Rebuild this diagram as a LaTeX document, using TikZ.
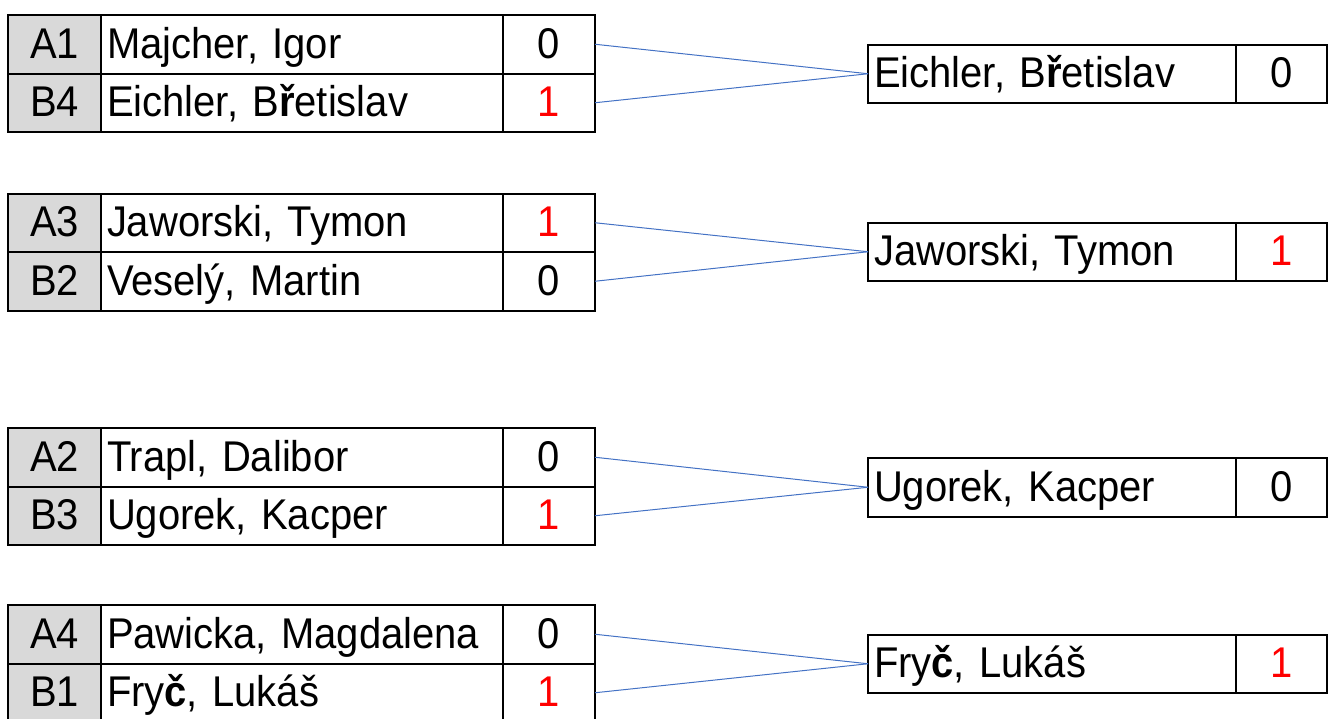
\documentclass[tikz,border=0pt]{standalone}
\usepackage{fontspec}
\setmainfont{Liberation Sans}[FakeStretch=0.93]
\definecolor{cellgray}{HTML}{D9D9D9}
\definecolor{linkblue}{HTML}{4472C4}
\definecolor{winred}{HTML}{FF0000}
\tikzset{
  cell/.style={draw=black, line width=2pt, anchor=north west, inner sep=0pt, outer sep=0pt,
    minimum height=58.5pt, text height=31pt, text depth=3pt,
    font=\fontsize{43}{50}\selectfont},
  codecell/.style={cell, fill=cellgray, minimum width=93pt},
  namecell/.style={cell, minimum width=402pt, text width=390pt, inner xsep=6pt, align=left},
  scorecell/.style={cell, minimum width=92pt},
  wnamecell/.style={cell, minimum width=368pt, text width=356pt, inner xsep=6pt, align=left},
  wscorecell/.style={cell, minimum width=91pt},
  link/.style={draw=linkblue, line width=1pt},
}
\newcommand\prow[5]{%
  \node[codecell] (#1c) at (8,#2) {#3};
  \node[namecell] (#1n) at (101,#2) {#4};
  \node[scorecell] (#1s) at (503,#2) {#5};
}
\newcommand\wbox[4]{%
  \node[wnamecell] (#1n) at (868,#2) {#3};
  \node[wscorecell] (#1s) at (1236,#2) {#4};
}
\newcommand\win{\textcolor{winred}{1}}
\begin{document}
\begin{tikzpicture}[x=1pt,y=-1pt]
\useasboundingbox (0,0) rectangle (1329,718);
% block 1
\prow{a1}{15}{A1}{Majcher, Igor}{0}
\prow{b4}{73.5}{B4}{Eichler, B{\bfseries ř}etislav}{\win}
\wbox{w1}{44.5}{Eichler, B{\bfseries ř}etislav}{0}
\draw[link] (a1s.east) -- (w1n.west);
\draw[link] (b4s.east) -- (w1n.west);
% block 2
\prow{a3}{193.5}{A3}{Jaworski, Tymon}{\win}
\prow{b2}{252}{B2}{Veselý, Martin}{0}
\wbox{w2}{222.5}{Jaworski, Tymon}{\win}
\draw[link] (a3s.east) -- (w2n.west);
\draw[link] (b2s.east) -- (w2n.west);
% block 3
\prow{a2}{428}{A2}{Trapl, Dalibor}{0}
\prow{b3}{486.5}{B3}{Ugorek, Kacper}{\win}
\wbox{w3}{458}{Ugorek, Kacper}{0}
\draw[link] (a2s.east) -- (w3n.west);
\draw[link] (b3s.east) -- (w3n.west);
% block 4
\prow{a4}{605}{A4}{Pawicka, Magdalena}{0}
\prow{b1}{663.5}{B1}{Fry{\bfseries č}, Lukáš}{\win}
\wbox{w4}{634.5}{Fry{\bfseries č}, Lukáš}{\win}
\draw[link] (a4s.east) -- (w4n.west);
\draw[link] (b1s.east) -- (w4n.west);
\end{tikzpicture}
\end{document}
